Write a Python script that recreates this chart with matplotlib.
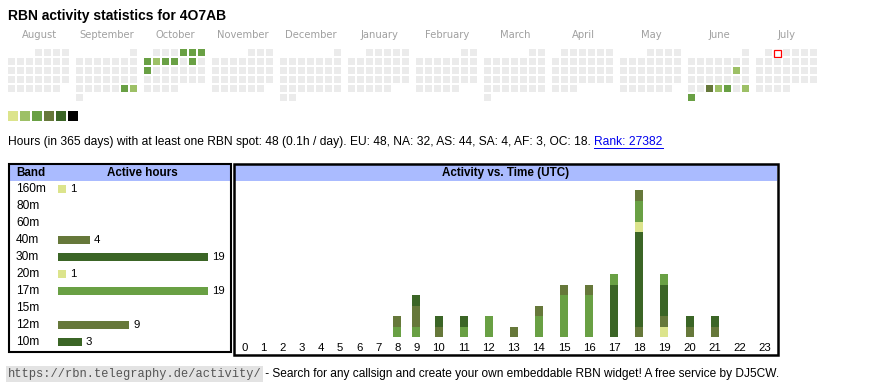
import datetime as dt
import calendar
import matplotlib
matplotlib.use("Agg")
import matplotlib.pyplot as plt
from matplotlib.patches import Rectangle
from matplotlib.transforms import blended_transform_factory

plt.rcParams["font.family"] = ["Liberation Sans", "DejaVu Sans"]

# ---------------- data ----------------
title = "RBN activity statistics for 4O7AB"
months = [(2024, 8), (2024, 9), (2024, 10), (2024, 11), (2024, 12), (2025, 1),
          (2025, 2), (2025, 3), (2025, 4), (2025, 5), (2025, 6), (2025, 7)]
month_names = ["August", "September", "October", "November", "December", "January",
               "February", "March", "April", "May", "June", "July"]
active_days = ["2024-09-28", "2024-09-29", "2024-10-04", "2024-10-05", "2024-10-06",
               "2024-10-07", "2024-10-08", "2024-10-09", "2024-10-10", "2024-10-12",
               "2024-10-14", "2025-06-14", "2025-06-25", "2025-06-26", "2025-06-27",
               "2025-06-29", "2025-06-30"]
active_levels = [3, 2, 3, 3, 3, 3, 2, 3, 3, 3, 3, 2, 4, 2, 3, 2, 3]
today = "2025-07-02"
level_colors = ["#dce48c", "#9dc066", "#69a044", "#66783a", "#3b6526", "#000000"]

summary = ("Hours (in 365 days) with at least one RBN spot: 48 (0.1h / day). "
           "EU: 48, NA: 32, AS: 44, SA: 4, AF: 3, OC: 18. ")
rank_text = "Rank: 27382"

bands = ["160m", "80m", "60m", "40m", "30m", "20m", "17m", "15m", "12m", "10m"]
band_hours = [1, 0, 0, 4, 19, 1, 19, 0, 9, 3]
band_colors = ["#dce48c", "#9dc066", "#69a044", "#66783a", "#3b6526",
               "#dce48c", "#69a044", "#9dc066", "#66783a", "#3b6526"]

hours = list(range(24))
#          hour:  0  1  2  3  4  5  6  7  8  9 10 11 12 13 14 15 16 17 18 19 20 21 22 23
act_160m = [0, 0, 0, 0, 0, 0, 0, 0, 0, 0, 0, 0, 0, 0, 0, 0, 0, 0, 0, 1, 0, 0, 0, 0]
act_80m  = [0] * 24
act_60m  = [0] * 24
act_40m  = [0, 0, 0, 0, 0, 0, 0, 0, 0, 0, 0, 0, 0, 0, 0, 0, 0, 0, 1, 1, 1, 1, 0, 0]
act_30m  = [0, 0, 0, 0, 0, 0, 0, 0, 0, 0, 0, 0, 0, 0, 0, 0, 0, 5, 9, 3, 1, 1, 0, 0]
act_20m  = [0, 0, 0, 0, 0, 0, 0, 0, 0, 0, 0, 0, 0, 0, 0, 0, 0, 0, 1, 0, 0, 0, 0, 0]
act_17m  = [0, 0, 0, 0, 0, 0, 0, 0, 1, 1, 0, 1, 2, 0, 2, 4, 4, 1, 2, 1, 0, 0, 0, 0]
act_15m  = [0] * 24
act_12m  = [0, 0, 0, 0, 0, 0, 0, 0, 1, 2, 1, 0, 0, 1, 1, 1, 1, 0, 1, 0, 0, 0, 0, 0]
act_10m  = [0, 0, 0, 0, 0, 0, 0, 0, 0, 1, 1, 1, 0, 0, 0, 0, 0, 0, 0, 0, 0, 0, 0, 0]
activity = [act_160m, act_80m, act_60m, act_40m, act_30m, act_20m,
            act_17m, act_15m, act_12m, act_10m]

footer_url = "https://rbn.telegraphy.de/activity/"
footer_text = " - Search for any callsign and create your own embeddable RBN widget! A free service by DJ5CW."

# ---------------- figure ----------------
W, H = 870, 390
fig = plt.figure(figsize=(W / 100, H / 100), dpi=100)


def px_axes(x0, y0, x1, y1):
    return fig.add_axes([x0 / W, 1 - y1 / H, (x1 - x0) / W, (y1 - y0) / H])


bg = px_axes(0, 0, W, H)
bg.set_xlim(0, W)
bg.set_ylim(H, 0)
bg.axis("off")

bg.text(8, 16, title, fontsize=10, fontweight="bold", va="center", ha="left")

# calendar
lvl = {dt.date.fromisoformat(d): l for d, l in zip(active_days, active_levels)}
today_d = dt.date.fromisoformat(today)
for i, ((yr, mo), name) in enumerate(zip(months, month_names)):
    bx = 8 + i * 68
    bg.text(bx + 31, 35, name, fontsize=7.2, color="#a0a0a0", ha="center",
            va="center", family="DejaVu Sans")
    first_wd, ndays = calendar.monthrange(yr, mo)
    for d in range(1, ndays + 1):
        date = dt.date(yr, mo, d)
        pos = first_wd + d - 1
        col, row = pos % 7, pos // 7
        x, y = bx + col * 9, 49 + row * 9
        if date == today_d:
            bg.add_patch(Rectangle((x + 0.5, y + 0.5), 7, 7, facecolor="white",
                                   edgecolor="red", linewidth=0.9))
        else:
            c = level_colors[lvl[date] - 1] if date in lvl else "#ebebeb"
            bg.add_patch(Rectangle((x, y), 7, 7, facecolor=c, edgecolor="none"))

for k, c in enumerate(level_colors):
    bg.add_patch(Rectangle((8 + k * 12, 111), 10, 10, facecolor=c, edgecolor="none"))

# summary line
t1 = bg.text(8, 142, summary, fontsize=8.68, va="center", ha="left")
t2 = bg.annotate(rank_text, xy=(1, 0.5), xycoords=t1, fontsize=8.68, va="center",
                 ha="left", color="#0000ee")

# boxes and headers
bg.add_patch(Rectangle((10, 165), 220, 16, facecolor="#aabbff", edgecolor="none"))
bg.add_patch(Rectangle((235, 165), 542, 16, facecolor="#aabbff", edgecolor="none"))
bg.add_patch(Rectangle((9, 164), 222, 187.5, facecolor="none", edgecolor="black", linewidth=1.5))
bg.add_patch(Rectangle((234, 164), 544, 190.5, facecolor="none", edgecolor="black", linewidth=1.8))
bg.text(16, 173, "Band", fontsize=8.4, fontweight="bold", va="center", ha="left")
bg.text(142, 173, "Active hours", fontsize=8.4, fontweight="bold", va="center", ha="center")
bg.text(506, 173, "Activity vs. Time (UTC)", fontsize=8.4, fontweight="bold",
        va="center", ha="center")

# footer
tf = bg.text(8, 374, footer_url, fontsize=8.68, family="Liberation Mono", color="#555555",
             va="center", ha="left",
             bbox=dict(facecolor="#e3e3e3", edgecolor="none", pad=1.2))
bg.annotate(footer_text, xy=(1, 0.5), xycoords=tf, fontsize=8.55, va="center", ha="left")

# band chart
axb = px_axes(58, 180.5, 218, 350.5)
ypos = list(range(len(bands)))
axb.barh(ypos, band_hours, height=0.42, color=band_colors)
axb.set_xlim(0, 160 / 7.9)
axb.set_ylim(len(bands) - 0.5, -0.5)
lab_tr = blended_transform_factory(axb.transAxes, axb.transData)
for yv, name, v in zip(ypos, bands, band_hours):
    axb.text((16 - 58) / 160, yv, name, transform=lab_tr, va="center", ha="left",
             fontsize=8.6)
    if v > 0:
        axb.annotate(str(v), xy=(v, yv), xytext=(3, 0), textcoords="offset points",
                     va="center", ha="left", fontsize=8.2)
axb.set_xticks([])
axb.set_yticks([])
for s in axb.spines.values():
    s.set_visible(False)
axb.patch.set_alpha(0)

# activity chart: table-like columns, width grows with label length
labels = [str(h) for h in hours]
col_w = [13.1 + 6.0 * len(s) for s in labels]
centers = []
acc = 0.0
for w in col_w:
    centers.append(acc + w / 2)
    acc += w
axa = px_axes(235, 181, 235 + acc, 337)
bottom = [0] * 24
for vals, c in zip(activity, band_colors):
    axa.bar(centers, vals, bottom=bottom, width=8, color=c)
    bottom = [b + v for b, v in zip(bottom, vals)]
axa.set_xlim(0, acc)
axa.set_ylim(0, 156 / 10.5)
axa.set_xticks(centers, labels)
axa.set_yticks([])
axa.tick_params(axis="x", length=0, pad=4, labelsize=8.2)
for s in axa.spines.values():
    s.set_visible(False)
axa.patch.set_alpha(0)

# underline rank link
fig.canvas.draw()
r = fig.canvas.get_renderer()
bb = t2.get_window_extent(r)
inv = bg.transData.inverted()
(xa, ya), (xb, yb) = inv.transform([(bb.x0, bb.y0), (bb.x1, bb.y0)])
bg.plot([xa, xb], [ya - 0.5, yb - 0.5], color="#0000ee", linewidth=0.7)

fig.savefig("out.png", dpi=100)
